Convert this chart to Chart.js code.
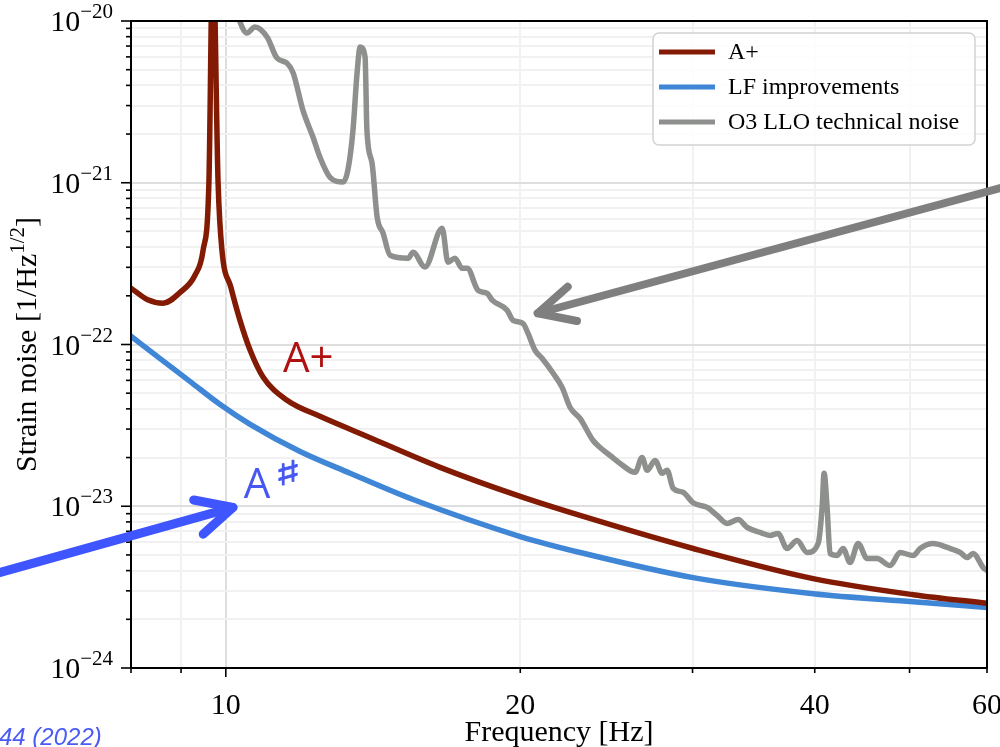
<!DOCTYPE html>
<html><head><meta charset="utf-8">
<script src="https://cdn.jsdelivr.net/npm/chart.js@4.4.1/dist/chart.umd.min.js"></script>
<style>html,body{margin:0;padding:0;background:#fff;overflow:hidden}canvas{display:block}</style>
</head><body>
<canvas id="c" width="1000" height="747"></canvas>
<script>
// ---------------- data ----------------
const seriesNames = ['A+', 'LF improvements', 'O3 LLO technical noise'];

const aplusFreq   = [8.0, 8.31, 8.63, 8.98, 9.30, 9.48, 9.61, 9.70, 9.82, 9.91, 10.12, 10.34, 10.59, 10.92, 11.55, 12.48, 13.72, 16.56, 20.0, 23.02, 30.04, 39.85, 50.42, 60.0];
const aplusStrain = [2.23e-22, 1.90e-22, 1.80e-22, 2.10e-22, 2.68e-22, 3.83e-22, 1.0e-21, 3.0e-20, 1.0e-21, 3.83e-22, 2.26e-22, 1.41e-22, 9.2e-23, 6.27e-23, 4.52e-23, 3.60e-23, 2.82e-23, 1.74e-23, 1.15e-23, 8.77e-24, 5.48e-24, 3.57e-24, 2.84e-24, 2.51e-24];

const lfFreq   = [8.0, 8.56, 9.19, 9.86, 10.59, 11.91, 13.40, 15.54, 20.0, 23.02, 30.04, 39.85, 50.42, 60.0];
const lfStrain = [1.125e-22, 8.21e-23, 5.92e-23, 4.27e-23, 3.21e-23, 2.18e-23, 1.60e-23, 1.10e-23, 6.50e-24, 5.18e-24, 3.62e-24, 2.88e-24, 2.57e-24, 2.37e-24];

const o3Freq = [10.15,10.34,10.51,10.71,11.02,11.28,11.55,11.72,11.99,12.28,12.48,12.78,13.18,13.33,13.49,13.62,13.72,13.88,13.94,14.11,14.28,14.48,14.72,15.36,15.54,15.98,16.64,16.87,17.15,17.44,17.65,18.11,18.50,18.72,19.39,19.66,20.13,20.37,20.71,21.05,21.61,22.07,22.49,23.02,23.74,24.13,24.71,25.30,26.21,26.64,26.96,27.47,27.93,28.26,28.66,29.34,30.04,31.05,31.79,32.54,33.40,34.11,35.17,36.01,36.69,37.48,38.37,39.29,40.32,40.70,40.89,41.18,41.47,42.16,42.76,43.47,44.30,45.25,46.32,47.77,48.90,50.42,51.26,52.86,54.63,56.33,57.26,58.08,59.46,60.0];
const o3Strain = [1.45e-20,9.86e-21,8.43e-21,9.18e-21,7.96e-21,5.90e-21,5.49e-21,4.76e-21,2.81e-21,1.91e-21,1.44e-21,1.08e-21,1.01e-21,1.20e-21,2.11e-21,4.76e-21,6.90e-21,5.98e-21,2.11e-21,1.32e-21,6.12e-22,4.88e-22,3.56e-22,3.41e-22,3.72e-22,3.01e-22,5.24e-22,3.23e-22,3.41e-22,2.96e-22,2.96e-22,2.16e-22,2.07e-22,1.88e-22,1.63e-22,1.41e-22,1.35e-22,1.17e-22,9.20e-23,8.22e-23,6.64e-23,5.43e-23,4.08e-23,3.49e-23,2.55e-23,2.31e-23,2.06e-23,1.84e-23,1.62e-23,2.00e-23,1.67e-23,1.92e-23,1.60e-23,1.67e-23,1.29e-23,1.22e-23,1.05e-23,9.83e-24,8.77e-24,7.83e-24,8.28e-24,7.40e-24,6.89e-24,6.60e-24,6.79e-24,5.48e-24,6.14e-24,5.18e-24,5.88e-24,9.83e-24,1.60e-23,9.83e-24,5.11e-24,4.96e-24,5.48e-24,4.49e-24,5.88e-24,4.75e-24,4.75e-24,4.30e-24,5.18e-24,4.96e-24,5.48e-24,5.88e-24,5.56e-24,5.18e-24,4.82e-24,5.11e-24,4.18e-24,4.01e-24];

const xTickValues   = [8, 9, 10, 20, 30, 40, 50, 60];
const xMajorTicks   = [10];
const xLabelValues  = [10, 20, 40, 60];
const xLabelTexts   = ['10', '20', '40', '60'];
const yDecadeExponents  = [-24, -23, -22, -21, -20];
const yMinorMultipliers = [2, 3, 4, 5, 6, 7, 8, 9];
const yTickBase = '10';
const yTickExponentTexts = ['\u221224', '\u221223', '\u221222', '\u221221', '\u221220'];

const xTitle = 'Frequency [Hz]';
const yTitleMain = 'Strain noise [1/Hz';
const yTitleSup = '1/2';
const yTitleEnd = ']';

// annotation anchors in data coordinates (Hz, strain)
const aPlusLabelAt  = {f: 11.44, v: 6.73e-23};
const aSharpLabelAt = {f: 10.43, v: 1.12e-23};
const grayArrowTail = {f: 61.9, v: 9.27e-22};
const grayArrowTip  = {f: 20.84, v: 1.56e-22};
const blueArrowTail = {f: 5.87, v: 3.89e-24};
const blueArrowTip  = {f: 10.17, v: 9.83e-24};
const citationText = '44 (2022)';

// ---------------- styles ----------------
const SERIF = "'Liberation Serif','Times New Roman',serif";
const SANS = "'Open Sans','Liberation Sans',sans-serif";
const colors = ['#831b04', '#3f86d6', '#8e908d'];

const toXY = (fs, vs) => fs.map((f, i) => ({x: f, y: vs[i]}));
const isDecade = v => { const e = Math.log10(v); return Math.abs(e - Math.round(e)) < 1e-6; };

const decor = {
  id: 'decor',
  afterDatasetsDraw(chart) {
    const {ctx, chartArea: a, scales: {x, y}} = chart;
    ctx.save();
    // tick marks
    ctx.strokeStyle = '#000';
    ctx.lineWidth = 1.6;
    x.ticks.forEach(t => {
      const px = x.getPixelForValue(t.value);
      const len = xMajorTicks.includes(t.value) ? 9 : 5;
      ctx.beginPath(); ctx.moveTo(px, a.bottom); ctx.lineTo(px, a.bottom + len); ctx.stroke();
    });
    y.ticks.forEach(t => {
      const py = y.getPixelForValue(t.value);
      const len = isDecade(t.value) ? 10 : 5;
      ctx.beginPath(); ctx.moveTo(a.left, py); ctx.lineTo(a.left - len, py); ctx.stroke();
    });
    // y tick labels: 10 with superscript exponent
    ctx.fillStyle = '#000';
    ctx.textBaseline = 'alphabetic';
    ctx.textAlign = 'right';
    yDecadeExponents.forEach((e, i) => {
      const py = y.getPixelForValue(Math.pow(10, e));
      const rx = a.left - 18;
      ctx.font = '21px ' + SERIF;
      const we = ctx.measureText(yTickExponentTexts[i]).width;
      ctx.fillText(yTickExponentTexts[i], rx, py - 3);
      ctx.font = '30px ' + SERIF;
      ctx.fillText(yTickBase, rx - we, py + 10);
    });
    // spines
    ctx.lineWidth = 2;
    ctx.strokeRect(a.left, a.top, a.right - a.left, a.bottom - a.top);

    // legend
    const lx = a.right - 12, ly = a.top + 12, lw = 322, lh = 112;
    const bx = lx - lw, by = ly;
    ctx.beginPath();
    ctx.roundRect(bx, by, lw, lh, 6);
    ctx.fillStyle = 'rgba(255,255,255,0.85)';
    ctx.fill();
    ctx.strokeStyle = '#d2d2d2';
    ctx.lineWidth = 1.5;
    ctx.stroke();
    ctx.font = '24px ' + SERIF;
    ctx.textBaseline = 'middle';
    ctx.textAlign = 'left';
    chart.data.datasets.forEach((ds, i) => {
      const rowY = by + 19 + i * 35;
      ctx.strokeStyle = ds.borderColor;
      ctx.lineWidth = 5;
      ctx.lineCap = 'butt';
      ctx.beginPath(); ctx.moveTo(bx + 6, rowY); ctx.lineTo(bx + 62, rowY); ctx.stroke();
      ctx.fillStyle = '#000';
      ctx.fillText(ds.label, bx + 75, rowY + 1);
    });

    // y-axis title with superscript
    ctx.save();
    const cy = (a.top + a.bottom) / 2;
    ctx.translate(36, cy);
    ctx.rotate(-Math.PI / 2);
    ctx.fillStyle = '#000';
    ctx.textAlign = 'left';
    ctx.textBaseline = 'alphabetic';
    const fMain = '30px ' + SERIF, fSup = '21px ' + SERIF;
    ctx.font = fMain; const w1 = ctx.measureText(yTitleMain).width; const w3 = ctx.measureText(yTitleEnd).width;
    ctx.font = fSup; const w2 = ctx.measureText(yTitleSup).width;
    let sx = -(w1 + w2 + w3) / 2;
    ctx.font = fMain; ctx.fillText(yTitleMain, sx, 0); sx += w1;
    ctx.font = fSup; ctx.fillText(yTitleSup, sx, -12); sx += w2;
    ctx.font = fMain; ctx.fillText(yTitleEnd, sx, 0);
    ctx.restore();
    ctx.restore();
  },
  afterDraw(chart) {
    const {ctx, scales: {x, y}} = chart;
    const P = p => [x.getPixelForValue(p.f), y.getPixelForValue(p.v)];
    ctx.save();
    const arrow = (tail, tip, color, width) => {
      const [x0, y0] = P(tail), [x1, y1] = P(tip);
      const ang = Math.atan2(y0 - y1, x0 - x1);
      ctx.strokeStyle = color; ctx.lineWidth = width; ctx.lineCap = 'round'; ctx.lineJoin = 'round';
      ctx.beginPath(); ctx.moveTo(x0, y0); ctx.lineTo(x1, y1); ctx.stroke();
      const L = 40, da = 0.46;
      ctx.beginPath();
      ctx.moveTo(x1 + L * Math.cos(ang - da), y1 + L * Math.sin(ang - da));
      ctx.lineTo(x1, y1);
      ctx.lineTo(x1 + L * Math.cos(ang + da), y1 + L * Math.sin(ang + da));
      ctx.stroke();
    };
    arrow(grayArrowTail, grayArrowTip, '#7f7f7f', 8);
    arrow(blueArrowTail, blueArrowTip, '#3f55ff', 9);

    ctx.textBaseline = 'alphabetic'; ctx.textAlign = 'left';
    let [tx, ty] = P(aPlusLabelAt);
    ctx.fillStyle = '#b01010'; ctx.font = '42px ' + SANS;
    ctx.fillText('A+', tx, ty);
    [tx, ty] = P(aSharpLabelAt);
    ctx.fillStyle = '#4657f2'; ctx.font = '42px ' + SANS;
    ctx.fillText('A', tx, ty);
    const wa = ctx.measureText('A').width;
    ctx.save();
    ctx.translate(tx + wa + 4, ty - 13);
    ctx.scale(1.65, 1);
    ctx.font = '34px "DejaVu Sans"';
    ctx.strokeStyle = '#4657f2';
    ctx.lineWidth = 0.8;
    ctx.fillText('\u266F', 0, 0);
    ctx.strokeText('\u266F', 0, 0);
    ctx.restore();

    ctx.fillStyle = '#4a5cf5'; ctx.font = 'italic 24px "Liberation Sans"';
    ctx.fillText(citationText, -1, 745);
    ctx.restore();
  }
};

new Chart(document.getElementById('c').getContext('2d'), {
  type: 'line',
  data: {
    datasets: [
      {label: seriesNames[0], data: toXY(aplusFreq, aplusStrain), borderColor: colors[0]},
      {label: seriesNames[1], data: toXY(lfFreq, lfStrain), borderColor: colors[1]},
      {label: seriesNames[2], data: toXY(o3Freq, o3Strain), borderColor: colors[2]}
    ].map(d => Object.assign(d, {borderWidth: 5.5, pointRadius: 0, fill: false, cubicInterpolationMode: 'monotone', clip: 0, borderJoinStyle: 'round', borderCapStyle: 'round'}))
  },
  options: {
    responsive: false, animation: false, devicePixelRatio: 1,
    layout: {padding: {top: 21, right: 13, left: 0, bottom: 0}},
    plugins: {legend: {display: false}, tooltip: {enabled: false}},
    scales: {
      x: {
        type: 'logarithmic', min: 8, max: 60,
        afterBuildTicks: s => { s.ticks = xTickValues.map(v => ({value: v, major: xMajorTicks.includes(v)})); },
        afterFit: s => { s.height = 79; s.paddingLeft = 0; s.paddingRight = 0; },
        ticks: {autoSkip: false, maxRotation: 0, minRotation: 0, padding: 20, color: '#000', font: {family: SERIF, size: 30},
          callback: v => { const i = xLabelValues.indexOf(v); return i >= 0 ? xLabelTexts[i] : ''; }},
        grid: {drawTicks: false, lineWidth: 2,
          color: c => { const v = c.tick && c.tick.value; if (v === 8 || v === 60) return 'rgba(0,0,0,0)'; return xMajorTicks.includes(v) ? '#dedede' : '#f1f1f1'; }},
        border: {display: false},
        title: {display: true, text: xTitle, color: '#000', font: {family: SERIF, size: 30}, padding: {top: 0, bottom: -4}}
      },
      y: {
        type: 'logarithmic', min: 1e-24, max: 1e-20,
        afterBuildTicks: s => {
          const t = [];
          yDecadeExponents.forEach((e, i) => {
            t.push({value: Math.pow(10, e)});
            if (i < yDecadeExponents.length - 1) yMinorMultipliers.forEach(m => t.push({value: m * Math.pow(10, e)}));
          });
          s.ticks = t;
        },
        afterFit: s => { s.width = 131; s.paddingTop = 0; s.paddingBottom = 0; },
        ticks: {display: false, autoSkip: false},
        grid: {drawTicks: false, lineWidth: 2,
          color: c => { const v = c.tick && c.tick.value; if (v === undefined) return 'rgba(0,0,0,0)'; if (Math.abs(v - 1e-24) / 1e-24 < 1e-6 || Math.abs(v - 1e-20) / 1e-20 < 1e-6) return 'rgba(0,0,0,0)'; return isDecade(v) ? '#dedede' : '#f1f1f1'; }},
        border: {display: false}
      }
    }
  },
  plugins: [decor]
});
</script>
</body></html>
